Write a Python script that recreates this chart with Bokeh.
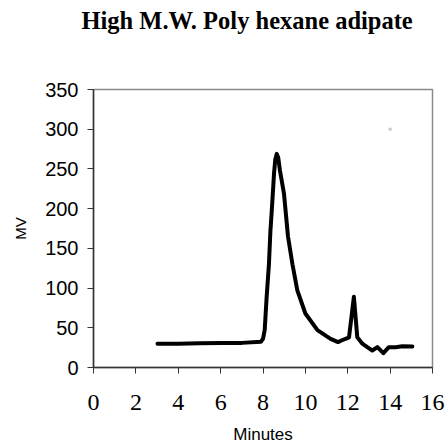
from bokeh.plotting import figure
from bokeh.models import Range1d, FixedTicker, Title
from bokeh.embed import file_html
from bokeh.resources import INLINE

title_text = "High M.W. Poly hexane adipate"
x_label = "Minutes"
y_label = "MV"

minutes = [3.02, 4.0, 5.0, 6.0, 7.0, 7.9, 8.0, 8.08, 8.17, 8.28, 8.35, 8.42, 8.52, 8.58, 8.65,
           8.72, 8.8, 8.99, 9.18, 9.39, 9.62, 10.0, 10.57, 11.19, 11.54, 11.7, 11.98, 12.06,
           12.29, 12.45, 12.69, 12.92, 13.16, 13.4, 13.68, 13.94, 14.26, 14.58, 15.05]
mv = [30, 30, 30.5, 31, 31, 32.5, 36, 47, 88, 130, 172, 200, 244, 262, 269,
      264, 248, 219, 165, 130, 97, 68, 47, 36, 32, 34, 37, 38,
      89, 38, 30, 25.6, 21.4, 25.6, 18, 25.6, 25.6, 26.8, 26.4]

stray_x = [14]
stray_y = [300]

x_ticks = list(range(0, 17, 2))
y_ticks = list(range(0, 351, 50))

p = figure(width=446, height=447, output_backend="svg", toolbar_location=None,
           x_range=Range1d(0, 16), y_range=Range1d(0, 350),
           min_border_left=93, min_border_right=14, min_border_top=89, min_border_bottom=80)

p.background_fill_color = "white"
p.border_fill_color = "white"
p.outline_line_color = "#8a8a8a"
p.outline_line_width = 1.5
p.xgrid.visible = False
p.ygrid.visible = False

# main title (outermost) plus an empty spacer title next to the frame
p.title.text = title_text
p.title.align = "left"
p.title.offset = -12
p.title.standoff = 0
p.title.text_font = "Liberation Serif"
p.title.text_font_size = "24.5px"
p.title.text_font_style = "bold"
p.title.text_color = "black"
p.add_layout(Title(text=" ", text_font_size="1px", standoff=53), "above")

xa = p.xaxis[0]
xa.ticker = FixedTicker(ticks=x_ticks)
xa.axis_line_color = "#333333"
xa.axis_line_width = 1.5
xa.major_tick_line_color = "#333333"
xa.major_tick_in = 0
xa.major_tick_out = 6
xa.minor_tick_line_color = None
xa.major_label_text_font = "Liberation Serif"
xa.major_label_text_font_size = "24px"
xa.major_label_text_color = "black"
xa.major_label_standoff = 21
xa.axis_label = x_label
xa.axis_label_text_font = "Liberation Sans"
xa.axis_label_text_font_size = "17px"
xa.axis_label_text_font_style = "normal"
xa.axis_label_text_color = "black"
xa.axis_label_standoff = 12

ya = p.yaxis[0]
ya.ticker = FixedTicker(ticks=y_ticks)
ya.axis_line_color = "#333333"
ya.axis_line_width = 1.5
ya.major_tick_line_color = "#333333"
ya.major_tick_in = 0
ya.major_tick_out = 6
ya.minor_tick_line_color = None
ya.major_label_text_font = "Liberation Sans"
ya.major_label_text_font_size = "20px"
ya.major_label_text_color = "black"
ya.major_label_standoff = 9
ya.axis_label = y_label
ya.axis_label_text_font = "Liberation Sans"
ya.axis_label_text_font_size = "15px"
ya.axis_label_text_font_style = "normal"
ya.axis_label_text_color = "black"
ya.axis_label_standoff = 13

p.scatter(stray_x, stray_y, marker="square", size=3, color="#c8c8c8", line_color=None)
p.line(minutes, mv, line_width=4, color="black", line_join="round", line_cap="round")

open("out.html", "w").write(file_html(p, INLINE))
